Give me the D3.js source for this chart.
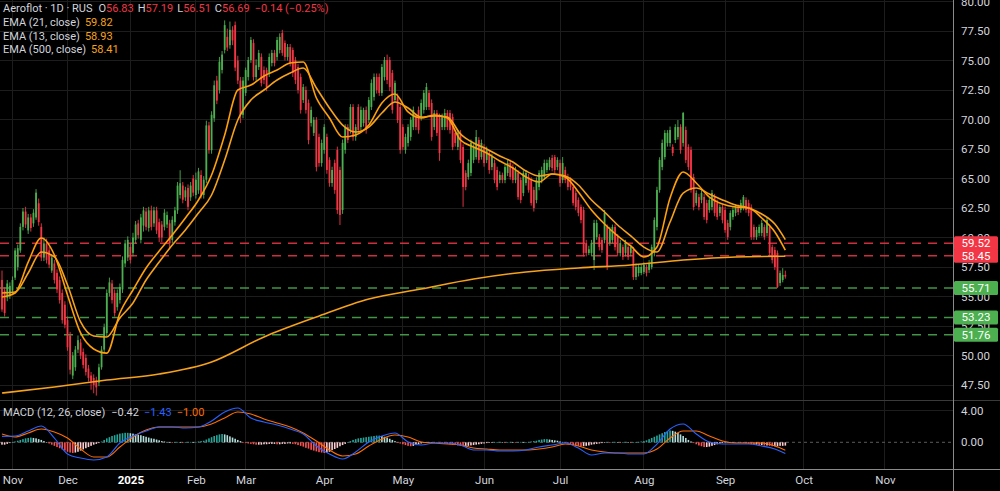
<!DOCTYPE html>
<html>
<head>
<meta charset="utf-8">
<script src="https://cdn.jsdelivr.net/npm/d3@7"></script>
<style>
html, body { margin: 0; padding: 0; background: #000; }
svg { display: block; }
text { font-family: Roboto, "Noto Sans", sans-serif; }
</style>
</head>
<body>
<svg id="chart" width="1000" height="491"></svg>
<script>
// daily candles, one small array per month: [open, high, low, close]
const oct24 = [[56.4,57.2,53.7,53.9],[55.5,55.8,53.3,53.6],[54.9,56.4,54.6,56.1],[55.1,56.2,54.8,55.9]];
const nov24 = [[55.5,56.7,55.2,56.4],[56.6,59.1,56.4,58.9],[57.5,59.4,57.2,59.1],[58.9,61.2,58.7,60.9],[60.9,62.5,60.6,62.2],
  [62.2,62.6,60.8,61.1],[60.6,62.0,60.3,61.7],[61.7,62.0,60.5,60.8],[61.2,62.4,60.9,62.1],[61.7,64.1,61.5,63.8],
  [62.9,63.3,61.0,61.3],[60.9,61.2,58.0,58.3],[58.3,60.0,58.0,59.5],[59.5,59.9,57.8,58.1],[58.9,59.2,57.4,57.7],
  [57.2,58.6,57.0,58.3],[57.8,58.1,56.1,56.4],[57.0,57.3,55.3,55.6],[56.4,56.7,54.4,54.7],[55.3,55.6,52.7,53.0],
  [54.3,54.6,52.3,52.6]];
const dec24 = [[53.0,53.3,50.4,50.7],[51.7,52.0,48.4,48.8],[48.3,50.3,48.0,50.0],[49.0,50.8,48.7,50.5],[50.5,51.7,50.2,51.3],
  [51.1,51.4,49.7,50.0],[50.3,50.6,48.9,49.2],[49.8,50.1,48.3,48.6],[48.9,49.2,47.8,48.1],[48.3,48.6,47.1,47.8],
  [48.1,48.4,46.8,47.5],[47.9,48.2,46.6,47.3],[47.7,49.3,47.4,49.0],[49.0,50.8,48.8,50.5],[50.5,52.7,50.2,52.4],
  [51.9,55.6,51.6,55.3],[55.3,56.6,55.0,56.2],[56.1,56.4,54.4,54.7],[55.3,55.6,53.3,53.6],[54.1,55.6,53.8,55.3],
  [54.7,56.1,54.4,55.8],[55.6,58.4,55.3,58.1],[57.8,59.8,57.5,59.5],[58.3,60.1,58.0,59.8]];
const jan25 = [[59.2,59.5,57.8,58.1],[58.7,60.4,58.4,60.0],[59.8,61.4,59.5,61.1],[61.2,61.5,59.9,60.2],[59.8,62.0,59.5,61.7],
  [61.0,62.6,60.5,62.3],[62.2,62.5,60.6,60.9],[60.8,62.6,60.5,62.3],[62.3,62.7,60.6,60.9],[61.2,62.6,60.9,62.3],
  [62.3,62.6,60.3,60.6],[61.3,61.6,59.6,60.0],[61.1,61.4,59.6,60.0],[60.9,62.4,60.6,62.1],[61.1,62.2,60.8,61.9],
  [61.2,61.5,59.0,59.5],[59.8,61.8,59.5,61.5],[61.3,62.6,61.0,62.3],[62.3,64.7,62.0,64.4],[63.6,65.7,63.3,64.6],
  [64.4,64.7,62.9,63.2],[63.4,64.3,63.1,64.0],[64.2,64.5,62.3,62.6],[63.4,64.7,63.1,64.4],[65.0,65.3,63.5,63.8]];
const feb25 = [[63.6,65.5,63.3,64.9],[64.0,65.9,63.7,65.6],[65.3,65.7,63.3,63.6],[63.6,65.2,63.3,64.9],[64.9,69.9,64.6,69.5],
  [69.5,69.8,67.1,67.4],[67.4,70.7,67.1,70.4],[70.1,73.3,69.8,72.9],[73.3,73.7,71.3,71.6],[72.5,75.3,72.2,74.9],
  [74.2,75.8,73.9,75.5],[75.9,78.4,75.6,78.0],[77.0,77.7,75.8,76.1],[76.3,78.3,76.0,77.6],[77.6,77.9,76.3,76.7],
  [78.0,78.3,74.1,74.4],[75.0,75.4,73.0,73.3],[73.3,73.6,69.7,70.4],[70.4,73.6,70.1,73.3]];
const mar25 = [[72.25,74.4,72.0,74.19],[73.6,75.3,73.3,75.04],[75.04,76.99,74.8,76.74],[76.48,76.8,73.3,73.6],[73.6,75.1,73.3,74.6],
  [74.45,75.9,74.2,75.64],[75.3,75.6,72.8,73.09],[74.19,74.5,73.0,73.35],[74.19,74.4,72.4,72.75],[73.94,75.6,73.6,75.3],
  [74.79,75.9,74.5,75.64],[75.64,75.9,74.5,74.79],[75.3,77.0,75.0,76.74],[75.89,77.3,75.6,76.99],[77.33,77.6,75.4,75.64],
  [76.48,76.7,75.0,75.3],[75.3,76.4,75.0,76.14],[76.14,76.4,74.5,74.79],[75.89,76.1,73.6,73.94],[75.04,75.3,73.0,73.35],
  [74.45,74.7,72.2,72.5],[73.6,73.9,70.5,70.81],[71.65,73.0,71.4,72.75],[72.5,72.8,70.5,70.81],[71.4,71.7,67.9,68.26],
  [69.7,71.1,69.4,70.81],[68.86,70.2,68.6,69.96],[69.96,70.2,65.6,65.97],[68.52,68.8,66.0,66.31],[66.31,68.3,66.0,68.01]];
const apr25 = [[67.42,69.6,67.1,69.36],[68.52,68.8,65.4,65.72],[66.57,66.8,64.3,64.62],[64.62,66.0,64.3,65.72],[66.31,66.6,63.7,64.03],
  [67.42,67.7,62.0,62.33],[65.72,66.0,61.06,61.91],[62.33,68.3,62.0,68.01],[67.42,69.6,67.1,69.36],[69.36,69.6,68.0,68.26],
  [69.11,71.3,68.8,71.06],[71.06,71.3,68.2,68.52],[68.52,69.6,68.2,69.36],[71.06,71.3,68.8,69.11],[69.36,71.1,69.1,70.81],
  [69.7,71.0,69.4,70.81],[70.81,71.1,68.8,69.11],[69.96,71.9,69.7,71.65],[71.06,73.4,70.8,73.09],[71.91,73.9,71.6,73.6],
  [73.6,73.9,72.2,72.5],[73.6,73.9,72.0,72.25],[72.25,74.7,72.0,74.45],[73.6,75.3,73.3,75.04],[75.04,75.5,73.0,73.35],
  [75.04,75.3,72.4,72.75],[73.94,74.2,70.5,70.81],[71.65,73.3,71.4,73.09],[71.91,72.2,69.7,69.96],[71.06,71.3,67.1,67.42]];
const may25 = [[69.36,69.6,67.4,67.67],[67.42,68.8,67.1,68.52],[68.01,69.6,67.7,69.36],[68.52,70.2,68.2,69.96],[69.36,71.1,69.1,70.81],
  [70.21,70.5,69.1,69.36],[70.81,71.1,68.8,69.11],[70.21,71.7,69.9,71.4],[70.81,72.5,70.5,72.25],[71.06,73.09,70.8,72.75],
  [72.25,72.5,70.8,71.06],[71.4,71.7,68.2,68.52],[69.36,70.8,69.1,70.55],[70.55,70.8,68.6,68.86],[70.21,70.5,66.5,67.16],
  [69.36,70.5,69.1,70.21],[69.36,70.9,69.1,70.55],[70.55,70.8,69.1,69.36],[70.55,70.8,68.8,69.11],[70.21,70.5,67.4,67.67],
  [68.86,69.1,67.7,68.01],[67.67,69.1,67.4,68.86],[68.86,69.1,66.3,66.57],[67.67,67.9,62.6,64.28],[65.47,65.7,64.0,64.28],
  [65.13,66.6,64.9,66.31],[65.47,68.3,65.2,68.01],[66.57,67.9,66.3,67.67],[66.82,69.11,66.6,68.52],[68.26,68.5,66.3,66.57],
  [66.82,68.3,66.6,68.01]];
const jun25 = [[67.67,67.9,66.0,66.31],[66.57,67.7,66.3,67.42],[67.16,67.4,65.4,65.72],[65.97,67.1,65.7,66.82],[66.31,66.6,64.6,64.87],
  [65.72,66.0,64.0,64.28],[64.87,65.6,64.6,65.3],[65.3,65.5,64.6,64.87],[64.87,66.2,64.6,65.97],[65.47,66.6,65.2,66.31],
  [66.31,66.6,64.9,65.13],[65.97,66.2,64.6,64.87],[64.87,66.0,64.6,65.72],[65.47,65.7,63.2,63.43],[64.87,65.1,62.9,63.18],
  [63.77,65.7,63.5,65.47],[64.62,65.7,64.4,65.47],[65.13,65.4,63.8,64.03],[64.87,65.1,62.7,62.92],[64.03,64.3,62.2,62.5],
  [63.18,65.1,62.9,64.87],[64.28,65.7,64.0,65.47],[64.87,66.0,64.6,65.72],[65.13,66.6,64.9,66.31],[65.72,66.6,65.5,66.31],
  [65.97,66.8,65.7,66.57],[66.74,67.0,65.6,65.89],[66.82,67.0,65.4,65.72],[65.97,66.8,65.7,66.57]];
const jul25 = [[66.31,66.6,64.3,64.62],[64.87,66.82,64.6,66.31],[65.72,66.0,64.6,64.87],[65.13,65.4,64.0,64.28],[64.87,65.1,64.0,64.28],
  [64.28,64.5,62.7,62.92],[63.77,64.0,62.3,62.58],[63.18,63.4,61.8,62.08],[62.58,62.8,61.2,61.48],[62.33,62.6,58.4,58.69],
  [59.53,59.8,58.4,58.69],[58.69,59.3,58.5,59.0],[58.69,59.8,58.4,59.53],[58.09,61.5,57.25,61.23],[60.04,61.5,59.8,61.23],
  [60.04,60.3,58.9,59.19],[59.79,60.0,58.7,58.94],[59.79,62.33,59.5,62.08],[60.89,61.1,57.25,57.5],[59.53,60.9,59.3,60.64],
  [59.79,61.1,59.5,60.89],[60.89,61.1,58.9,59.19],[60.04,60.3,58.4,58.69],[58.69,59.8,58.4,59.53],[59.19,59.4,58.1,58.35],
  [58.69,59.8,58.4,59.53],[59.19,59.4,58.1,58.35],[58.69,59.4,58.4,59.19],[58.94,59.2,56.4,56.65],[56.65,57.8,56.4,57.5],
  [56.99,57.7,56.7,57.5],[56.99,57.7,56.8,57.5]];
const aug25 = [[57.08,57.9,56.9,57.67],[57.5,57.7,56.7,56.99],[57.25,58.1,57.0,57.84],[57.5,59.4,57.3,59.19],[58.69,61.7,58.4,61.48],
  [60.89,64.3,60.6,64.03],[64.03,66.8,63.8,66.57],[65.97,68.3,65.7,68.01],[66.82,69.1,66.6,68.86],[68.01,69.1,67.7,68.86],
  [68.01,69.4,67.7,69.11],[67.67,67.9,66.9,67.16],[68.26,69.6,68.0,69.36],[68.52,69.96,68.3,69.36],[69.36,69.6,67.1,67.42],
  [68.01,70.64,67.7,70.55],[69.11,69.4,66.3,66.57],[67.67,67.9,65.7,65.97],[67.42,67.7,63.8,64.03],[65.13,65.4,62.3,62.58],
  [62.92,64.0,62.7,63.77],[63.43,63.7,62.3,62.58],[63.18,64.0,62.9,63.77],[63.43,63.7,61.5,61.74],[62.92,63.2,61.2,61.48],
  [62.33,63.4,62.1,63.18],[62.58,64.03,62.3,63.77],[63.43,63.7,61.8,62.08],[62.92,63.2,61.5,61.74],[62.08,62.8,61.8,62.58],
  [62.58,62.8,61.2,61.48]];
const sep25 = [[62.33,62.6,60.4,60.64],[61.23,61.5,59.8,60.04],[60.89,62.3,60.6,62.08],[61.74,62.6,61.5,62.33],[62.08,62.8,61.8,62.58],
  [62.58,62.8,61.9,62.16],[62.33,63.2,62.1,62.92],[62.58,63.6,62.3,63.43],[63.18,63.4,62.1,62.33],[62.92,63.2,61.8,62.08],
  [62.58,62.8,59.8,60.04],[60.89,61.1,59.8,60.04],[60.04,60.9,59.8,60.64],[60.38,61.1,60.1,60.89],[60.38,61.5,60.1,61.23],
  [60.89,61.1,59.8,60.04],[60.38,61.7,60.1,61.48],[60.89,61.1,58.4,58.69],[59.19,59.4,57.8,58.09],[58.94,59.2,57.25,57.5],
  [58.69,58.9,55.71,55.81],[56.14,57.2,55.9,56.99],[56.40,57.4,56.2,56.83],[56.83,57.19,56.51,56.69]];

// calendar days still to come (rest of Sep, Oct) for the empty right part of the time axis
const futureMonthDays = [30, 31];
const monthLabels = ["Nov", "Dec", "2025", "Feb", "Mar", "Apr", "May", "Jun", "Jul", "Aug", "Sep", "Oct", "Nov"];

const ema13 = [54.96,55.30,57.92,59.96,58.52,55.13,51.91,50.55,50.20,53.60,55.55,57.42,58.86,60.21,61.65,63.18,65.30,68.69,72.50,72.92,
  73.69,74.19,74.79,74.87,71.82,70.13,68.52,68.69,69.53,71.40,72.16,70.64,70.13,70.38,70.13,68.26,67.67,67.16,66.48,65.89,
  65.13,64.70,65.38,65.13,63.86,62.33,61.14,60.13,59.28,58.35,59.19,63.35,65.55,64.62,63.43,62.84,62.58,62.50,61.65,60.47,58.93];
const ema21 = [55.30,55.38,56.99,58.77,58.35,55.97,52.84,51.65,51.57,53.18,54.45,56.40,57.92,59.36,60.64,62.08,63.60,66.57,69.96,71.65,
  72.50,73.35,73.94,74.36,72.67,70.97,69.53,68.94,69.36,70.55,71.48,70.97,70.21,70.30,70.21,68.77,68.01,67.50,66.91,66.40,
  65.64,65.21,65.38,65.21,64.45,63.18,62.16,61.06,60.13,59.19,58.77,61.31,63.77,64.19,63.69,63.18,62.75,62.50,61.99,61.14,59.82];
const macdLine = [0.75,0.80,1.43,2.06,0.54,-1.47,-1.99,-2.24,-1.86,-0.09,0.80,1.43,1.94,1.94,1.81,1.94,2.70,3.84,4.35,3.08,
  2.57,2.19,1.68,1.05,-0.47,-1.48,-2.11,-1.22,0.04,0.80,1.18,0.04,-0.34,-0.09,-0.09,-0.34,-0.97,-0.97,-1.10,-1.10,
  -0.97,-0.59,-0.34,-0.09,-0.72,-1.61,-1.35,-1.35,-1.48,-1.48,-0.22,1.68,2.32,1.05,0.04,-0.22,-0.22,-0.22,-0.47,-0.85,-1.43];
const signalLine = [1.05,0.67,1.18,1.68,1.30,0.54,-0.85,-1.86,-1.86,-0.59,0.67,1.56,1.94,1.94,1.94,1.94,2.32,3.08,3.84,3.58,
  2.95,2.44,1.94,1.18,0.16,-0.97,-1.73,-1.48,-0.47,0.42,0.92,0.67,0.04,-0.09,-0.22,-0.34,-0.72,-0.85,-0.97,-0.97,
  -0.97,-0.85,-0.59,-0.22,-0.47,-0.97,-1.23,-1.35,-1.35,-1.35,-0.85,0.54,1.43,1.43,0.80,0.16,-0.09,-0.09,-0.09,-0.47,-1.00];
// EMA 500 sampled every 20 bars
const ema500 = [46.82,47.33,47.92,48.43,49.45,51.57,53.26,54.79,55.64,56.48,57.08,57.42,57.67,58.09,58.35,58.41];

// MACD histogram, one value per bar
const macdHist = [-0.3,-0.3,-0.2,-0.1, 0.0,0.1,0.2, 0.3,0.4,0.5,0.55,0.6,0.55,0.5,0.4,0.3, 0.15,0.0, -0.15,-0.3,-0.45,
  -0.6,-0.75,-0.9,-1.05,-1.2,-1.3,-1.35, -1.3,-1.2,-1.05,-0.9,-0.75,-0.6,-0.45,-0.3,-0.2,-0.1, 0.1,0.3,0.5,0.65,
  0.8,0.9,1.0,1.1,1.15,1.2,1.2, 1.15,1.1,1.0,0.95,0.9,0.8,0.7,0.6,0.5,0.45,0.35,0.25,0.15,0.1,
  0.05,0.0,-0.05,0.0,0.05,0.0,-0.05,0.0,0.05,0.05,0.0,0.05,0.1,0.15, 0.2,0.35,0.5,0.65,0.8,0.9,1.0,1.05,1.0,
  0.9,0.75,0.6,0.45,0.3,0.15,
  -0.05,-0.1,-0.15,-0.2,-0.25,-0.3,-0.3,-0.3,-0.25,-0.25,-0.2,-0.2,-0.2,-0.25,-0.25,-0.2,-0.2,-0.15,-0.15,-0.2,-0.25,
  -0.35,-0.45,-0.55,-0.7,-0.8,-0.95,-1.05,-1.15,-1.25,-1.3,-1.35,-1.3,-1.2, -1.0,-0.85,-0.7,-0.5,-0.35,-0.2,
  0.0,0.15,0.3,0.4,0.5,0.55,0.6,0.65,0.7,0.75,0.8,0.85,0.85,0.8,0.7,0.6,0.45,0.3,0.15,
  -0.05,-0.15,-0.25,-0.35,-0.45,-0.5,-0.45,-0.35,-0.25,-0.15,
  -0.05,0.0,0.05,0.0,-0.05,0.0,-0.05,-0.1,-0.15,-0.2,-0.25,-0.3,
  -0.35,-0.4,-0.45,-0.5,-0.5,-0.45,-0.4,-0.35,-0.3,-0.25,-0.2,-0.15,-0.1,-0.05,-0.05,0.0,0.0,0.05,
  0.0,-0.05,0.0,0.05,0.0,-0.05,0.0,0.05,0.0,0.0,0.05,
  0.1,0.15,0.2,0.3,0.35,0.4,0.4,0.35,0.3,0.25,0.2,0.1,0.05,
  -0.05,-0.15,-0.25,-0.35,-0.4,-0.45,-0.5,-0.5,-0.45,-0.4,-0.3,-0.25,-0.2,-0.15,
  -0.1,-0.05,0.0,-0.05,0.0,0.05,0.0,-0.05,0.0,0.05,0.0,-0.05,0.0,0.0,0.05,0.1,0.15,
  0.25,0.4,0.55,0.7,0.85,1.0,1.15,1.3,1.4,1.5,1.45, 1.35,1.2,1.0,0.8,0.55,0.3,0.1,
  -0.1,-0.25,-0.4,-0.5,-0.6,-0.6,-0.55,-0.45,-0.35,-0.25,-0.15,
  -0.1,-0.05,0.0,0.05,0.0,-0.05,0.0,-0.05,-0.1,-0.15,
  -0.2,-0.25,-0.3,-0.3,-0.35,-0.35,-0.4,-0.4,-0.45,-0.5,-0.5,-0.5,-0.45,-0.45,-0.42];

const priceTicks = [47.5, 50, 52.5, 55, 57.5, 60, 62.5, 65, 67.5, 70, 72.5, 75, 77.5, 80];
const macdTicks = [0, 4];
const levels = [59.52, 58.45, 55.71, 53.23, 51.76];
const levelKind = ["res", "res", "sup", "sup", "sup"];

// layout
const W = 1000, H = 491;
const axisX = 953, paneSplit = 400, timeTop = 469;
const UP = "#4caf50", DOWN = "#f23645";
const TXT = "#d1d4dc";
const ORANGE = "#f7a21b";

const months = [nov24, dec24, jan25, feb25, mar25, apr25, may25, jun25, jul25, aug25, sep25];
const candles = [].concat(oct24, ...months);
const nBars = candles.length;

// bar index where each month begins
let monthStart = [];
let k = oct24.length;
months.forEach(m => { monthStart.push(k); k += m.length; });
let s = monthStart[monthStart.length - 1];
futureMonthDays.forEach(d => { s += d; monthStart.push(s); });

const sampleBars = ema13.map((d, i) => Math.min(i * 5, nBars - 1));
const slowBars = ema500.map((d, i) => Math.min(i * 20, nBars - 1));

// scales
let x = d3.scaleLinear().domain([0, 363]).range([2, axisX]);
let y = d3.scaleLinear().domain([47.5, 80]).range([385, 1.5]);
let ym = d3.scaleLinear().domain([0, 4]).range([442.3, 410.7]);

const svg = d3.select("#chart");
svg.append("rect").attr("width", W).attr("height", H).attr("fill", "#000");

const defs = svg.append("defs");
defs.append("clipPath").attr("id", "clipMain").append("rect")
  .attr("x", 0).attr("y", 0).attr("width", axisX).attr("height", paneSplit);
defs.append("clipPath").attr("id", "clipMacd").append("rect")
  .attr("x", 0).attr("y", paneSplit).attr("width", axisX).attr("height", timeTop - paneSplit);

// grid
let grid = svg.append("g").attr("stroke", "#1d1d1d").attr("stroke-width", 1).attr("shape-rendering", "crispEdges");
grid.selectAll(".hgrid").data(priceTicks).join("line").attr("class", "hgrid")
  .attr("x1", 0).attr("x2", axisX).attr("y1", d => y(d)).attr("y2", d => y(d));
grid.selectAll(".vgrid").data(monthStart).join("line").attr("class", "vgrid")
  .attr("x1", d => x(d)).attr("x2", d => x(d)).attr("y1", 0).attr("y2", timeTop);
grid.append("line").attr("x1", 0).attr("x2", axisX).attr("y1", ym(4)).attr("y2", ym(4));

// MACD zero line
svg.append("line").attr("x1", 0).attr("x2", axisX).attr("y1", ym(0)).attr("y2", ym(0))
  .attr("stroke", "#5a5a5a").attr("stroke-dasharray", "3,3").attr("stroke-width", 1);

// horizontal levels
let main = svg.append("g").attr("clip-path", "url(#clipMain)");
main.selectAll(".level").data(levels).join("line").attr("class", "level")
  .attr("x1", 0).attr("x2", axisX)
  .attr("y1", d => y(d)).attr("y2", d => y(d))
  .attr("stroke", (d, i) => levelKind[i] == "res" ? DOWN : UP)
  .attr("stroke-opacity", 0.85)
  .attr("stroke-width", 1.5)
  .attr("stroke-dasharray", "9,7");

// candles
let bars = main.selectAll(".candle").data(candles).join("g").attr("class", "candle");
bars.append("line")
  .attr("x1", (d, i) => x(i)).attr("x2", (d, i) => x(i))
  .attr("y1", d => y(d[1])).attr("y2", d => y(d[2]))
  .attr("stroke", d => d[3] >= d[0] ? UP : DOWN)
  .attr("stroke-width", 0.9);
bars.append("rect")
  .attr("x", (d, i) => x(i) - 0.9)
  .attr("width", 1.8)
  .attr("y", d => y(Math.max(d[0], d[3])))
  .attr("height", d => Math.max(1, Math.abs(y(d[0]) - y(d[3]))))
  .attr("fill", d => d[3] >= d[0] ? UP : DOWN);

// EMAs
let priceLine = d3.line().x(d => x(d[0])).y(d => y(d[1])).curve(d3.curveMonotoneX);
main.append("path").datum(slowBars.map((b, i) => [b, ema500[i]]))
  .attr("d", priceLine).attr("fill", "none").attr("stroke", ORANGE).attr("stroke-width", 1.6);
main.append("path").datum(sampleBars.map((b, i) => [b, ema21[i]]))
  .attr("d", priceLine).attr("fill", "none").attr("stroke", ORANGE).attr("stroke-width", 1.6);
main.append("path").datum(sampleBars.map((b, i) => [b, ema13[i]]))
  .attr("d", priceLine).attr("fill", "none").attr("stroke", "#ff9f0a").attr("stroke-width", 1.6);

// MACD pane
let macd = svg.append("g").attr("clip-path", "url(#clipMacd)");
macd.selectAll(".hist").data(macdHist).join("rect").attr("class", "hist")
  .attr("x", (d, i) => x(i) - 0.8)
  .attr("width", 1.6)
  .attr("y", d => ym(Math.max(0, d)))
  .attr("height", d => Math.max(0.6, Math.abs(ym(d) - ym(0))))
  .attr("fill", (d, i) => {
    let prev = i > 0 ? macdHist[i - 1] : d;
    if (d >= 0) return d >= prev ? "#26a69a" : "#b2dfdb";
    return d < prev ? "#ff5252" : "#ffcdd2";
  });
let macdPath = d3.line().x(d => x(d[0])).y(d => ym(d[1])).curve(d3.curveMonotoneX);
macd.append("path").datum(sampleBars.map((b, i) => [b, signalLine[i]]))
  .attr("d", macdPath).attr("fill", "none").attr("stroke", "#ff6d00").attr("stroke-width", 1.1);
macd.append("path").datum(sampleBars.map((b, i) => [b, macdLine[i]]))
  .attr("d", macdPath).attr("fill", "none").attr("stroke", "#2962ff").attr("stroke-width", 1.1);

// frame lines
svg.append("line").attr("x1", 0).attr("x2", W).attr("y1", paneSplit + 0.5).attr("y2", paneSplit + 0.5)
  .attr("stroke", "#3a3a3a");
svg.append("line").attr("x1", 0).attr("x2", W).attr("y1", timeTop + 0.5).attr("y2", timeTop + 0.5)
  .attr("stroke", "#8a8a8a");
svg.append("line").attr("x1", axisX + 0.5).attr("x2", axisX + 0.5).attr("y1", 0).attr("y2", H)
  .attr("stroke", "#8a8a8a");

// price axis
let yAxis = d3.axisRight(y).tickValues(priceTicks).tickFormat(d3.format(".2f")).tickSize(0).tickPadding(8);
svg.append("g").attr("transform", "translate(" + axisX + ",0)").call(yAxis)
  .call(g => g.select(".domain").remove())
  .call(g => g.selectAll("text").attr("fill", TXT).attr("font-size", 11.5).attr("font-family", "Roboto, sans-serif"));

let mAxis = d3.axisRight(ym).tickValues(macdTicks).tickFormat(d3.format(".2f")).tickSize(0).tickPadding(8);
svg.append("g").attr("transform", "translate(" + axisX + ",0)").call(mAxis)
  .call(g => g.select(".domain").remove())
  .call(g => g.selectAll("text").attr("fill", TXT).attr("font-size", 11.5).attr("font-family", "Roboto, sans-serif"));

// level tags on the price axis
let tags = svg.append("g");
levels.forEach((v, i) => {
  tags.append("rect").attr("x", axisX + 1).attr("y", y(v) - 7).attr("width", 44).attr("height", 14)
    .attr("rx", 1.5).attr("fill", levelKind[i] == "res" ? DOWN : UP);
  tags.append("text").attr("x", axisX + 23).attr("y", y(v)).attr("dy", "0.35em")
    .attr("text-anchor", "middle").attr("fill", "#fff").attr("font-size", 11.5).text(d3.format(".2f")(v));
});

// time axis
let xAxis = d3.axisBottom(x).tickValues(monthStart).tickFormat((d, i) => monthLabels[i]).tickSize(0).tickPadding(7);
svg.append("g").attr("transform", "translate(0," + timeTop + ")").call(xAxis)
  .call(g => g.select(".domain").remove())
  .call(g => g.selectAll("text").attr("fill", TXT).attr("font-size", 11.5).attr("font-family", "Roboto, sans-serif")
    .attr("font-weight", d => monthLabels[monthStart.indexOf(d)] == "2025" ? "bold" : "normal")
    .attr("fill", d => monthLabels[monthStart.indexOf(d)] == "2025" ? "#fff" : TXT));

// legends
const f2 = d3.format(".2f");
let lastBar = candles[nBars - 1], prevBar = candles[nBars - 2];
let chg = lastBar[3] - prevBar[3];
let pct = chg / prevBar[3] * 100;
let head = svg.append("text").attr("x", 3).attr("y", 12).attr("font-size", 11);
head.append("tspan").attr("fill", TXT).text("Aeroflot · 1D · RUS");
[["O", lastBar[0]], ["H", lastBar[1]], ["L", lastBar[2]], ["C", lastBar[3]]].forEach((p, i) => {
  head.append("tspan").attr("dx", i == 0 ? 6 : 4).attr("fill", TXT).text(p[0]);
  head.append("tspan").attr("fill", DOWN).text(f2(p[1]));
});
head.append("tspan").attr("dx", 5).attr("fill", DOWN).text(f2(chg) + " (" + f2(pct) + "%)");

const emaLegend = [["EMA (21, close)", ema21], ["EMA (13, close)", ema13], ["EMA (500, close)", ema500]];
emaLegend.forEach((e, i) => {
  let t = svg.append("text").attr("x", 3).attr("y", 26 + i * 13.5).attr("font-size", 11);
  t.append("tspan").attr("fill", TXT).text(e[0]);
  t.append("tspan").attr("dx", 5).attr("fill", ORANGE).text(f2(e[1][e[1].length - 1]));
});

let ml = svg.append("text").attr("x", 3).attr("y", 416).attr("font-size", 11);
ml.append("tspan").attr("fill", TXT).text("MACD (12, 26, close)");
ml.append("tspan").attr("dx", 6).attr("fill", TXT).text(f2(macdHist[macdHist.length - 1]));
ml.append("tspan").attr("dx", 5).attr("fill", "#2962ff").text(f2(macdLine[macdLine.length - 1]));
ml.append("tspan").attr("dx", 5).attr("fill", "#ff6d00").text(f2(signalLine[signalLine.length - 1]));
</script>
</body>
</html>
